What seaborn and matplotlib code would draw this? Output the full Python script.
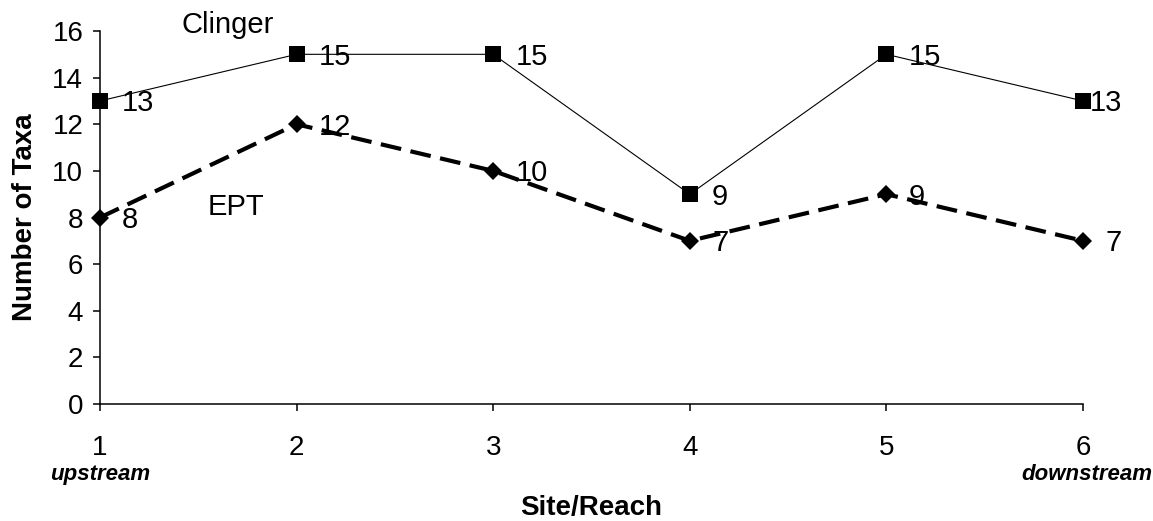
import numpy as np
import pandas as pd
import seaborn as sns
import matplotlib
matplotlib.use('Agg')
import matplotlib.pyplot as plt

sites = [1, 2, 3, 4, 5, 6]
clinger = [13, 15, 15, 9, 15, 13]
ept = [8, 12, 10, 7, 9, 7]
site_ticks = ['1', '2', '3', '4', '5', '6']

df = pd.DataFrame({'site': sites, 'Clinger': clinger, 'EPT': ept})

sns.set_style('ticks')
plt.rcParams['font.family'] = ['Liberation Sans', 'DejaVu Sans']
plt.rcParams['text.color'] = 'black'
plt.rcParams['axes.labelcolor'] = 'black'
plt.rcParams['xtick.color'] = 'black'
plt.rcParams['ytick.color'] = 'black'

fig = plt.figure(figsize=(11.53, 5.21), dpi=100)
ax = fig.add_axes([100 / 1153, 117 / 521, 983 / 1153, 373 / 521])

sns.lineplot(data=df, x='site', y='Clinger', ax=ax, color='black', linewidth=0.8,
             marker='s', markersize=11.5, markeredgewidth=0, clip_on=False, zorder=3)
sns.lineplot(data=df, x='site', y='EPT', ax=ax, color='black', linewidth=3,
             dashes=(5, 2.3), marker='D', markersize=9, markeredgewidth=0,
             clip_on=False, zorder=3)

# value labels right of each point
for i, (x, y) in enumerate(zip(sites, clinger)):
    dx = 5 if i == len(sites) - 1 else 16
    ax.annotate(str(y), (x, y), xytext=(dx, -7.5), textcoords='offset points',
                fontsize=21, ha='left', va='baseline', annotation_clip=False)
for x, y in zip(sites, ept):
    ax.annotate(str(y), (x, y), xytext=(16, -7.5), textcoords='offset points',
                fontsize=21, ha='left', va='baseline', annotation_clip=False)

ax.text(1.65, 15.92, 'Clinger', fontsize=21, ha='center', va='baseline')
ax.text(1.69, 8.11, 'EPT', fontsize=21, ha='center', va='baseline')

ax.set_xlim(1, 6)
ax.set_ylim(0, 16)
ax.set_xticks(sites)
ax.set_xticklabels(site_ticks)
ax.set_yticks(np.arange(0, 17, 2))
ax.tick_params(axis='both', labelsize=20, length=5, width=1.1, color='black',
               labelcolor='black', direction='out')
ax.tick_params(axis='x', pad=17)
ax.tick_params(axis='y', pad=7)

for s in ['top', 'right']:
    ax.spines[s].set_visible(False)
for s in ['left', 'bottom']:
    ax.spines[s].set_color('black')
    ax.spines[s].set_linewidth(1.1)

ax.text(1, -0.19, 'upstream', transform=ax.get_xaxis_transform(), fontsize=16,
        fontweight='bold', fontstyle='italic', ha='center', va='center')
ax.text(6.02, -0.19, 'downstream', transform=ax.get_xaxis_transform(), fontsize=16,
        fontweight='bold', fontstyle='italic', ha='center', va='center')

ax.set_xlabel('Site/Reach', fontsize=20, fontweight='bold')
ax.set_ylabel('Number of Taxa', fontsize=20, fontweight='bold')
ax.xaxis.set_label_coords(0.5, -0.244)
ax.yaxis.set_label_coords(-0.063, 0.5)

fig.savefig('out.png', dpi=100)
